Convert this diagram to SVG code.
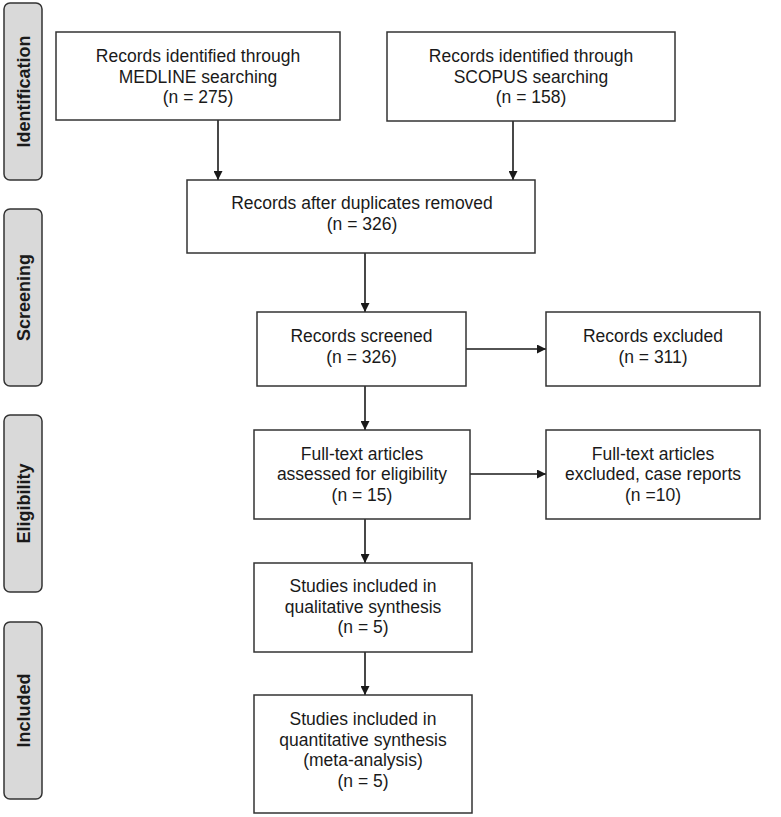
<svg xmlns="http://www.w3.org/2000/svg" width="781" height="817" viewBox="0 0 781 817">
<style>
.bg{fill:#ffffff}
.box{fill:#ffffff;stroke:#333333;stroke-width:1.5}
.side{fill:#d9d9d9;stroke:#333333;stroke-width:1.5}
.t{font-family:"Liberation Sans",Arial,sans-serif;font-size:17.5px;fill:#1a1a1a;text-anchor:middle}
.s{font-family:"Liberation Sans",Arial,sans-serif;font-size:18px;font-weight:bold;fill:#1a1a1a;text-anchor:middle}
.c{stroke:#1a1a1a;stroke-width:1.6;fill:none;marker-end:url(#ah)}
</style>
<defs>
<marker id="ah" viewBox="0 0 10 10" markerUnits="userSpaceOnUse" markerWidth="9" markerHeight="9" refX="10" refY="5" orient="auto">
<path d="M0,0 L10,5 L0,10 z" fill="#1a1a1a"/>
</marker>
</defs>
<rect class="bg" x="0" y="0" width="781" height="817"/>

<g id="phase-identification">
<rect class="side" x="4" y="3" width="38" height="177" rx="6"/>
<text class="s" transform="translate(29.5,91.5) rotate(-90)">Identification</text>
</g>
<g id="phase-screening">
<rect class="side" x="4" y="209" width="38" height="177" rx="6"/>
<text class="s" transform="translate(29.5,297.5) rotate(-90)">Screening</text>
</g>
<g id="phase-eligibility">
<rect class="side" x="4" y="415" width="38" height="177" rx="6"/>
<text class="s" transform="translate(29.5,503.5) rotate(-90)">Eligibility</text>
</g>
<g id="phase-included">
<rect class="side" x="4" y="622" width="38" height="177" rx="6"/>
<text class="s" transform="translate(29.5,710.5) rotate(-90)">Included</text>
</g>

<g id="connectors">
<line class="c" x1="218" y1="120" x2="218" y2="180"/>
<line class="c" x1="513" y1="121" x2="513" y2="180"/>
<line class="c" x1="365" y1="253" x2="365" y2="312"/>
<line class="c" x1="466" y1="349" x2="546" y2="349"/>
<line class="c" x1="365" y1="386" x2="365" y2="430"/>
<line class="c" x1="470" y1="474" x2="546" y2="474"/>
<line class="c" x1="365" y1="519" x2="365" y2="563"/>
<line class="c" x1="365" y1="652" x2="365" y2="695"/>
</g>

<g id="medline">
<rect class="box" x="56" y="32" width="284" height="88"/>
<text class="t" x="198" y="62">Records identified through</text>
<text class="t" x="198" y="82.5">MEDLINE searching</text>
<text class="t" x="198" y="103">(n = 275)</text>
</g>
<g id="scopus">
<rect class="box" x="387" y="32" width="288" height="89"/>
<text class="t" x="531" y="62">Records identified through</text>
<text class="t" x="531" y="82.5">SCOPUS searching</text>
<text class="t" x="531" y="103">(n = 158)</text>
</g>
<g id="dedup">
<rect class="box" x="187" y="180" width="348" height="73"/>
<text class="t" x="362" y="209">Records after duplicates removed</text>
<text class="t" x="362" y="229.5">(n = 326)</text>
</g>
<g id="screened">
<rect class="box" x="257" y="312" width="209" height="74"/>
<text class="t" x="361.5" y="342">Records screened</text>
<text class="t" x="361.5" y="362.5">(n = 326)</text>
</g>
<g id="excluded">
<rect class="box" x="546" y="312" width="214" height="74"/>
<text class="t" x="653" y="342">Records excluded</text>
<text class="t" x="653" y="362.5">(n = 311)</text>
</g>
<g id="fulltext">
<rect class="box" x="254" y="430" width="216" height="89"/>
<text class="t" x="362" y="459.5">Full-text articles</text>
<text class="t" x="362" y="480">assessed for eligibility</text>
<text class="t" x="362" y="500.5">(n = 15)</text>
</g>
<g id="fulltext-excluded">
<rect class="box" x="546" y="430" width="214" height="89"/>
<text class="t" x="653" y="459.5">Full-text articles</text>
<text class="t" x="653" y="480">excluded, case reports</text>
<text class="t" x="653" y="500.5">(n =10)</text>
</g>
<g id="qualitative">
<rect class="box" x="254" y="563" width="218" height="89"/>
<text class="t" x="363" y="592">Studies included in</text>
<text class="t" x="363" y="612.5">qualitative synthesis</text>
<text class="t" x="363" y="633">(n = 5)</text>
</g>
<g id="quantitative">
<rect class="box" x="254" y="695" width="218" height="118"/>
<text class="t" x="363" y="725">Studies included in</text>
<text class="t" x="363" y="745.5">quantitative synthesis</text>
<text class="t" x="363" y="766">(meta-analysis)</text>
<text class="t" x="363" y="786.5">(n = 5)</text>
</g>
</svg>
